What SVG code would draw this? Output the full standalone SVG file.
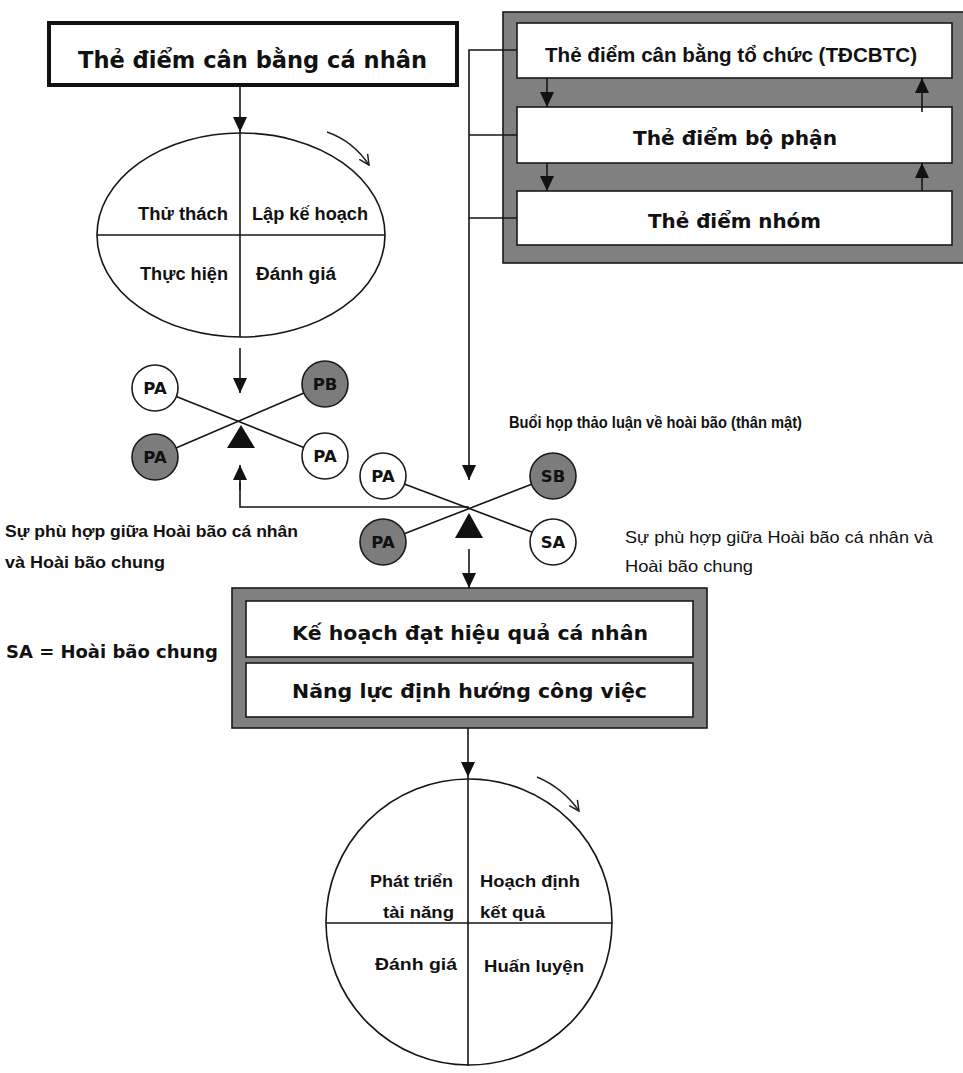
<svg xmlns="http://www.w3.org/2000/svg" width="963" height="1073" viewBox="0 0 963 1073">
  <style>
    .ln { stroke: #161616; stroke-width: 1.6; fill: none; }
    .arr { stroke: #161616; stroke-width: 1.6; fill: none; marker-end: url(#ah); }
    .rot { stroke: #222; stroke-width: 1.4; fill: none; marker-end: url(#open); }
    .box { fill: #fff; stroke: #1a1a1a; stroke-width: 1.6; }
    .panel { fill: #808080; stroke: #1a1a1a; stroke-width: 1.6; }
    .cw { fill: #fff; stroke: #1a1a1a; stroke-width: 1.6; }
    .cg { fill: #7c7c7c; stroke: #1a1a1a; stroke-width: 1.6; }
    text { font-family: "Liberation Sans", Arial, sans-serif; fill: #111; font-weight: bold; }
    .wide { font-family: "DejaVu Sans", Verdana, sans-serif; font-weight: bold; }
    .title { font-size: 22.6px; }
    .card { font-size: 20px; }
    .plan { font-size: 20.3px; }
    .quad { font-size: 18px; }
    .quad2 { font-size: 17px; }
    .circ { font-size: 16.5px; text-anchor: middle; }
    .note { font-size: 16.5px; font-weight: normal; }
    .noteb { font-size: 17px; }
  </style>
  <defs>
    <marker id="ah" markerUnits="userSpaceOnUse" viewBox="0 0 15 14" markerWidth="15" markerHeight="14" refX="15" refY="7" orient="auto">
      <path d="M0,0 L15,7 L0,14 z" fill="#111"/>
    </marker>
    <marker id="open" markerUnits="userSpaceOnUse" viewBox="0 0 12 12" markerWidth="12" markerHeight="12" refX="11" refY="6" orient="auto">
      <path d="M1,1 L11,6 L1,11" fill="none" stroke="#222" stroke-width="1.5"/>
    </marker>
  </defs>

  <rect width="963" height="1073" fill="#fff"/>

  <!-- personal balanced scorecard -->
  <g id="personal-card">
    <rect x="49" y="23" width="408" height="62" fill="#fff" stroke="#111" stroke-width="4"/>
    <text class="wide title" x="78" y="68" textLength="349" lengthAdjust="spacingAndGlyphs">Thẻ điểm cân bằng cá nhân</text>
  </g>

  <!-- personal cycle (ellipse) -->
  <g id="personal-cycle">
    <ellipse cx="241" cy="235" rx="144" ry="102" fill="none" stroke="#161616" stroke-width="1.6"/>
    <line class="ln" x1="240" y1="132" x2="240" y2="337"/>
    <line class="ln" x1="97" y1="235" x2="385" y2="235"/>
    <text class="quad" x="228" y="220" text-anchor="end" textLength="90" lengthAdjust="spacingAndGlyphs">Thử thách</text>
    <text class="quad" x="252" y="220" textLength="116" lengthAdjust="spacingAndGlyphs">Lập kế hoạch</text>
    <text class="quad" x="228" y="280" text-anchor="end" textLength="88" lengthAdjust="spacingAndGlyphs">Thực hiện</text>
    <text class="quad" x="256" y="280" textLength="80" lengthAdjust="spacingAndGlyphs">Đánh giá</text>
  </g>

  <!-- organisation cards panel -->
  <g id="org-cards">
    <rect class="panel" x="503" y="12" width="470" height="251"/>
    <rect class="box" x="517" y="23" width="435" height="55"/>
    <rect class="box" x="517" y="107" width="435" height="56"/>
    <rect class="box" x="517" y="191" width="435" height="54"/>
    <text class="card" x="545" y="62" font-size="20.5" textLength="372" lengthAdjust="spacingAndGlyphs">Thẻ điểm cân bằng tổ chức (TĐCBTC)</text>
    <text class="wide card" x="633" y="145" textLength="204" lengthAdjust="spacingAndGlyphs">Thẻ điểm bộ phận</text>
    <text class="wide card" x="648" y="228" textLength="173" lengthAdjust="spacingAndGlyphs">Thẻ điểm nhóm</text>
  </g>

  <!-- first vision match -->
  <g id="vision-match-1">
    <line class="ln" x1="155" y1="388" x2="325" y2="456"/>
    <line class="ln" x1="155" y1="457" x2="325" y2="384"/>
    <circle class="cw" cx="155" cy="388" r="23"/>
    <circle class="cg" cx="325" cy="384" r="23"/>
    <circle class="cg" cx="155" cy="457" r="23"/>
    <circle class="cw" cx="325" cy="456" r="23"/>
    <text class="wide circ" x="155" y="394">PA</text>
    <text class="wide circ" x="325" y="390">PB</text>
    <text class="wide circ" x="155" y="463">PA</text>
    <text class="wide circ" x="325" y="462">PA</text>
    <path d="M241,425 L227,448 L255,448 z" fill="#111"/>
  </g>

  <!-- vision meeting -->
  <g id="vision-meeting">
    <line class="ln" x1="383" y1="476" x2="553" y2="540"/>
    <line class="ln" x1="383" y1="542" x2="553" y2="476"/>
    <circle class="cw" cx="383" cy="476" r="23"/>
    <circle class="cg" cx="553" cy="476" r="23"/>
    <circle class="cg" cx="383" cy="542" r="23"/>
    <circle class="cw" cx="553" cy="542" r="23"/>
    <text class="wide circ" x="383" y="482">PA</text>
    <text class="wide circ" x="553" y="482">SB</text>
    <text class="wide circ" x="383" y="548">PA</text>
    <text class="wide circ" x="553" y="548">SA</text>
    <path d="M469,513 L455,538 L483,538 z" fill="#111"/>
    <text x="509" y="428" font-size="16" textLength="293" lengthAdjust="spacingAndGlyphs">Buổi họp thảo luận về hoài bão (thân mật)</text>
  </g>

  <!-- notes -->
  <g id="notes">
    <text class="noteb" x="5" y="537" textLength="293" lengthAdjust="spacingAndGlyphs">Sự phù hợp giữa Hoài bão cá nhân</text>
    <text class="noteb" x="5" y="568" textLength="160" lengthAdjust="spacingAndGlyphs">và Hoài bão chung</text>
    <text class="wide" x="6" y="658" font-size="18" textLength="212" lengthAdjust="spacingAndGlyphs">SA = Hoài bão chung</text>
    <text class="note" x="625" y="543" textLength="308" lengthAdjust="spacingAndGlyphs">Sự phù hợp giữa Hoài bão cá nhân và</text>
    <text class="note" x="625" y="572" textLength="128" lengthAdjust="spacingAndGlyphs">Hoài bão chung</text>
  </g>

  <!-- performance plan panel -->
  <g id="plan-panel">
    <rect class="panel" x="232" y="588" width="475" height="140"/>
    <rect class="box" x="246" y="601" width="447" height="56"/>
    <rect class="box" x="246" y="663" width="447" height="54"/>
    <text class="wide plan" x="292" y="640" textLength="356" lengthAdjust="spacingAndGlyphs">Kế hoạch đạt hiệu quả cá nhân</text>
    <text class="wide plan" x="292" y="698" textLength="355" lengthAdjust="spacingAndGlyphs">Năng lực định hướng công việc</text>
  </g>

  <!-- development cycle (circle) -->
  <g id="development-cycle">
    <circle cx="469" cy="922" r="143" fill="none" stroke="#161616" stroke-width="1.6"/>
    <line class="ln" x1="468" y1="777" x2="468" y2="1066"/>
    <line class="ln" x1="326" y1="923" x2="612" y2="923"/>
    <text class="quad2" x="453" y="887" text-anchor="end" textLength="83" lengthAdjust="spacingAndGlyphs">Phát triển</text>
    <text class="quad2" x="454" y="918" text-anchor="end" textLength="71" lengthAdjust="spacingAndGlyphs">tài năng</text>
    <text class="quad2" x="480" y="887" textLength="100" lengthAdjust="spacingAndGlyphs">Hoạch định</text>
    <text class="quad2" x="480" y="918" textLength="65" lengthAdjust="spacingAndGlyphs">kết quả</text>
    <text class="quad2" x="457" y="970" text-anchor="end" textLength="82" lengthAdjust="spacingAndGlyphs">Đánh giá</text>
    <text class="quad2" x="484" y="972" textLength="100" lengthAdjust="spacingAndGlyphs">Huấn luyện</text>
  </g>

  <!-- connectors -->
  <g id="connectors">
    <!-- personal scorecard to cycle -->
    <line class="arr" x1="240" y1="85" x2="240" y2="132"/>
    <!-- organisation cards feed line -->
    <polyline class="ln" points="517,50 469,50 469,218 517,218"/>
    <line class="ln" x1="469" y1="135" x2="517" y2="135"/>
    <line class="arr" x1="469" y1="218" x2="469" y2="480"/>
    <!-- cascade inside the panel -->
    <line class="arr" x1="547" y1="78" x2="547" y2="107"/>
    <line class="arr" x1="547" y1="163" x2="547" y2="191"/>
    <line class="arr" x1="922" y1="112" x2="922" y2="78"/>
    <line class="arr" x1="922" y1="191" x2="922" y2="163"/>
    <!-- cycle to first vision match -->
    <line class="arr" x1="240" y1="348" x2="240" y2="393"/>
    <!-- feedback from meeting to first vision match -->
    <polyline class="ln" points="469,507 240,507 240,482"/>
    <line class="arr" x1="240" y1="490" x2="240" y2="465"/>
    <!-- meeting to plans -->
    <line class="arr" x1="469" y1="549" x2="469" y2="588"/>
    <!-- plans to development cycle -->
    <line class="arr" x1="468" y1="728" x2="468" y2="777"/>
    <!-- rotation hints -->
    <path class="rot" d="M327,132 Q353,141 369,165"/>
    <path class="rot" d="M537,777 Q563,788 579,811"/>
  </g>
</svg>
